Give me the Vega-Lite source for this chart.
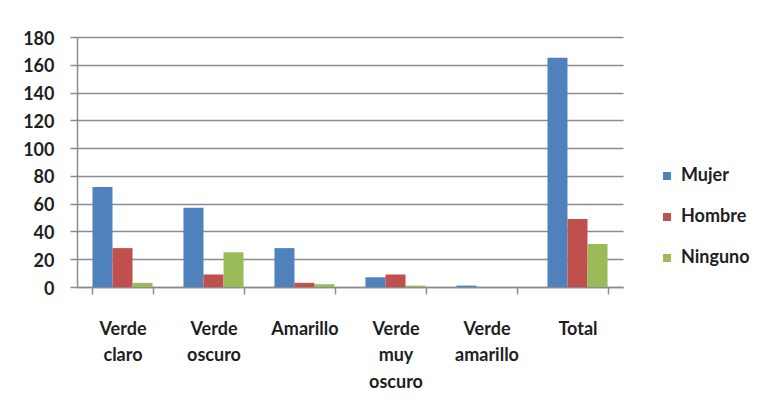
{
  "$schema": "https://vega.github.io/schema/vega-lite/v6.json",
  "width": 546,
  "height": 250,
  "autosize": {"type": "none"},
  "padding": {"left": 77, "top": 37, "right": 135, "bottom": 121},
  "background": "white",
  "config": {"view": {"stroke": null}, "font": "Lato"},
  "data": {
    "values": [
      {"categoria": "Verde claro", "serie": "Mujer", "valor": 72},
      {"categoria": "Verde claro", "serie": "Hombre", "valor": 28},
      {"categoria": "Verde claro", "serie": "Ninguno", "valor": 3},
      {"categoria": "Verde oscuro", "serie": "Mujer", "valor": 57},
      {"categoria": "Verde oscuro", "serie": "Hombre", "valor": 9},
      {"categoria": "Verde oscuro", "serie": "Ninguno", "valor": 25},
      {"categoria": "Amarillo", "serie": "Mujer", "valor": 28},
      {"categoria": "Amarillo", "serie": "Hombre", "valor": 3},
      {"categoria": "Amarillo", "serie": "Ninguno", "valor": 2},
      {"categoria": "Verde muy oscuro", "serie": "Mujer", "valor": 7},
      {"categoria": "Verde muy oscuro", "serie": "Hombre", "valor": 9},
      {"categoria": "Verde muy oscuro", "serie": "Ninguno", "valor": 1},
      {"categoria": "Verde amarillo", "serie": "Mujer", "valor": 1},
      {"categoria": "Verde amarillo", "serie": "Hombre", "valor": 0},
      {"categoria": "Verde amarillo", "serie": "Ninguno", "valor": 0},
      {"categoria": "Total", "serie": "Mujer", "valor": 165},
      {"categoria": "Total", "serie": "Hombre", "valor": 49},
      {"categoria": "Total", "serie": "Ninguno", "valor": 31}
    ]
  },
  "mark": {"type": "bar", "opacity": 1},
  "encoding": {
    "x": {
      "field": "categoria",
      "type": "nominal",
      "sort": ["Verde claro", "Verde oscuro", "Amarillo", "Verde muy oscuro", "Verde amarillo", "Total"],
      "scale": {"paddingInner": 0.34, "paddingOuter": 0.17},
      "axis": {
        "title": null,
        "labelAngle": 0,
        "labelExpr": "split(datum.label, ' ')",
        "labelFont": "Lato",
        "labelFontWeight": "bold",
        "labelFontSize": 18,
        "labelColor": "#1e1e1e",
        "labelLineHeight": 26.5,
        "labelBaseline": "alphabetic",
        "labelPadding": 40,
        "labelLimit": 0,
        "tickBand": "extent",
        "tickSize": 7,
        "tickWidth": 1.5,
        "tickColor": "#8c8c8c",
        "domainColor": "#8c8c8c",
        "domainWidth": 1.5,
        "grid": false
      }
    },
    "xOffset": {"field": "serie", "sort": ["Mujer", "Hombre", "Ninguno"]},
    "y": {
      "field": "valor",
      "type": "quantitative",
      "scale": {"domain": [0, 180]},
      "axis": {
        "title": null,
        "values": [0, 20, 40, 60, 80, 100, 120, 140, 160, 180],
        "grid": true,
        "gridColor": "#8c8c8c",
        "gridWidth": 1.5,
        "domainColor": "#8c8c8c",
        "domainWidth": 1.5,
        "tickColor": "#8c8c8c",
        "tickSize": 7,
        "tickWidth": 1.5,
        "labelFont": "Lato",
        "labelFontWeight": "bold",
        "labelFontSize": 18,
        "labelColor": "#1e1e1e",
        "labelPadding": 16,
        "labelOffset": 2
      }
    },
    "color": {
      "field": "serie",
      "type": "nominal",
      "sort": ["Mujer", "Hombre", "Ninguno"],
      "scale": {"domain": ["Mujer", "Hombre", "Ninguno"], "range": ["#4F81BD", "#C0504D", "#9BBB59"]},
      "legend": {
        "title": null,
        "orient": "none",
        "legendX": 581,
        "legendY": 130,
        "direction": "vertical",
        "symbolType": "square",
        "symbolSize": 64,
        "symbolStrokeWidth": 0,
        "symbolOpacity": 1,
        "labelFont": "Lato",
        "labelFontWeight": "bold",
        "labelFontSize": 18,
        "labelColor": "#1e1e1e",
        "labelOffset": 5,
        "rowPadding": 23,
        "padding": 0
      }
    }
  }
}
